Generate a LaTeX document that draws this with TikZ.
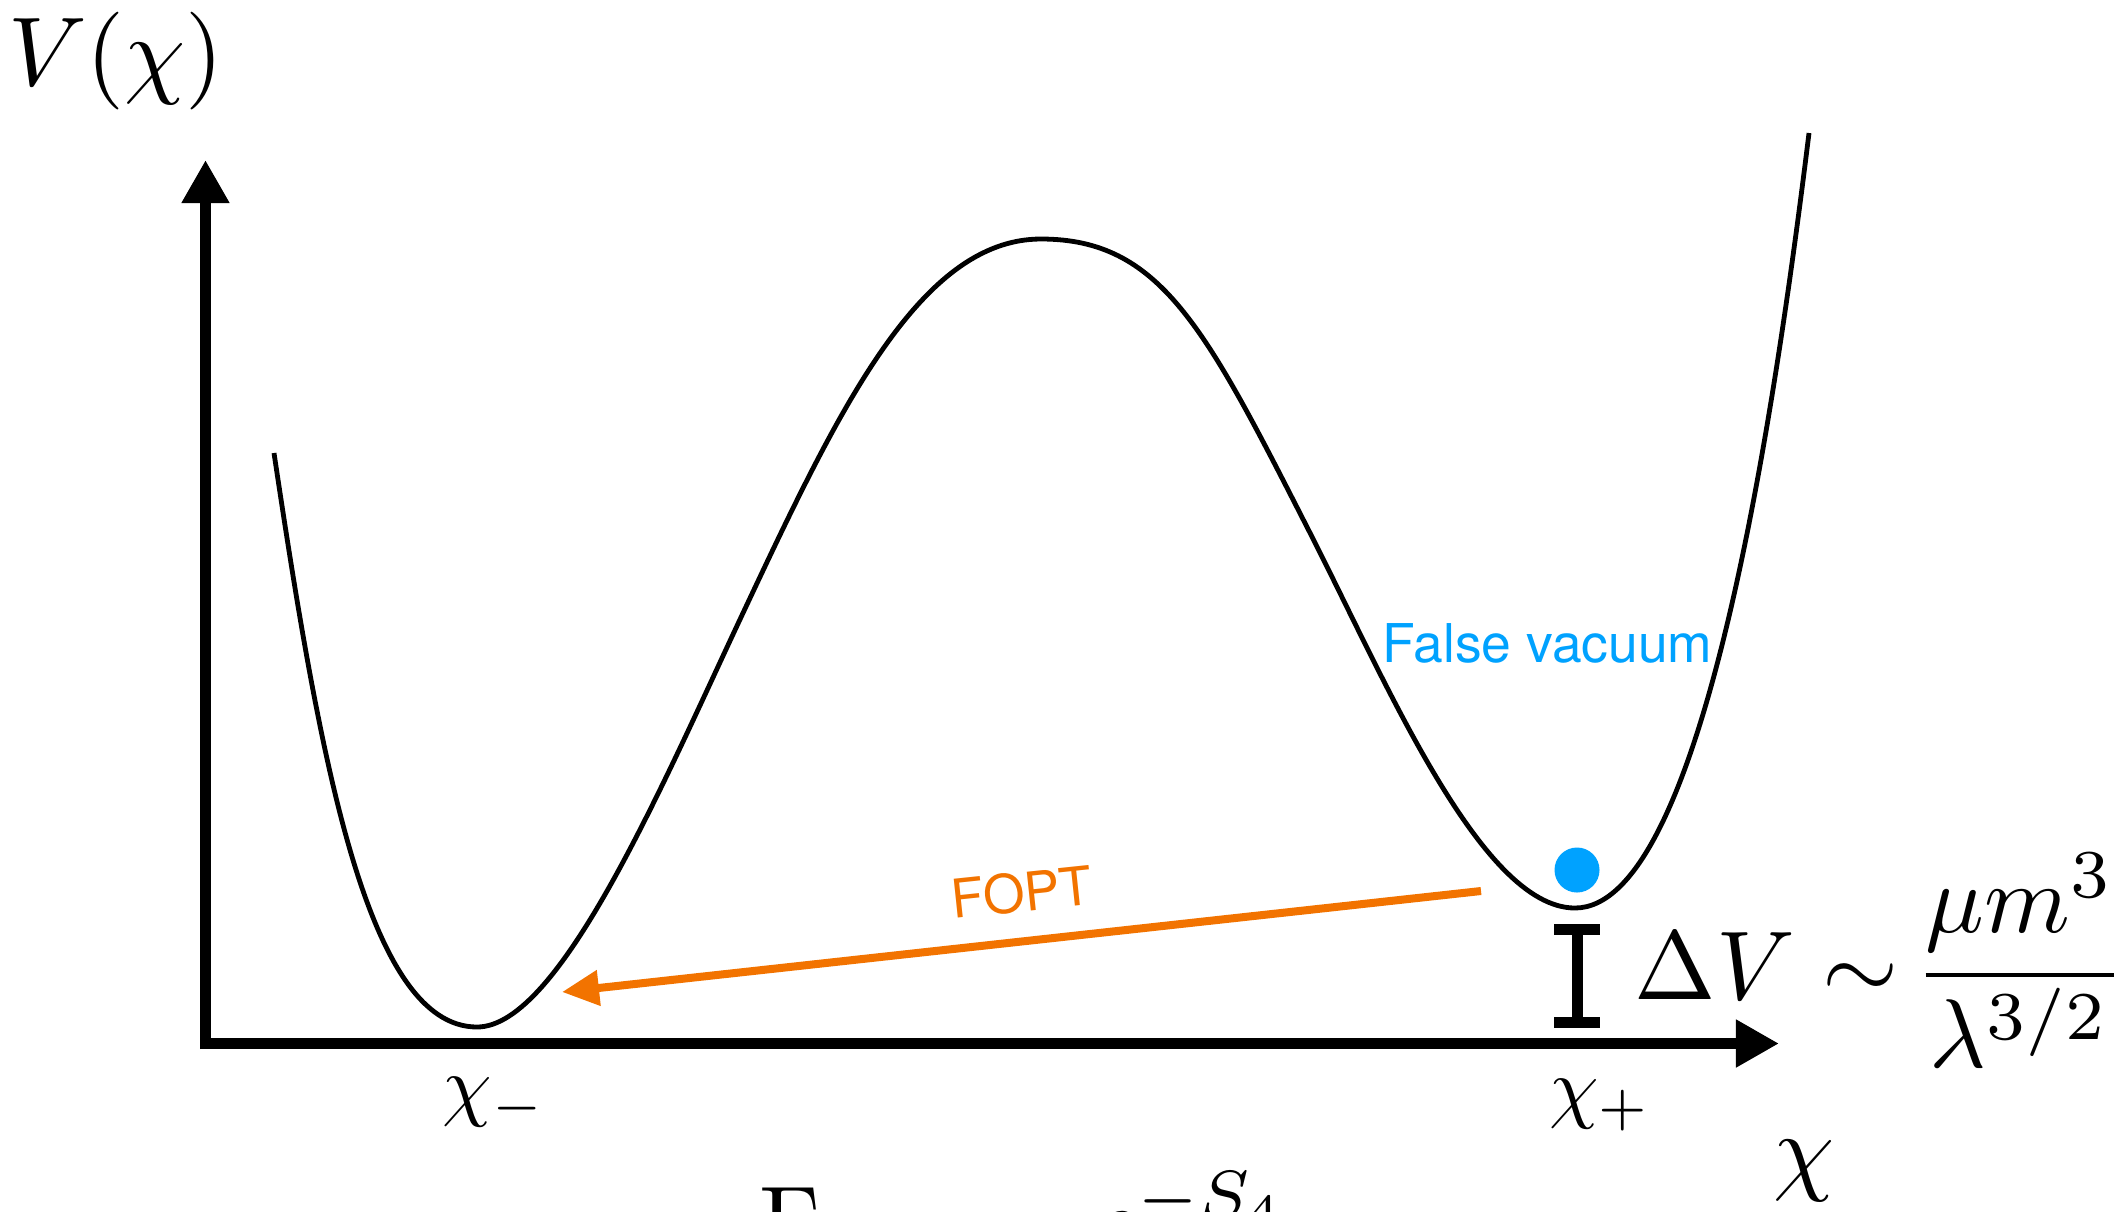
\documentclass[tikz,border=0pt]{standalone}
\usepackage[no-math]{fontspec}
\newfontfamily\heros{TeX Gyre Heros}
\usetikzlibrary{arrows.meta}

\definecolor{vacblue}{RGB}{0,162,255}
\definecolor{foptorange}{RGB}{242,115,0}

\newcommand*{\textlab}{\heros\fontsize{15.2}{18}\selectfont}

\begin{document}
\begin{tikzpicture}
[
	axis/.style={line width=0.11cm,-{Triangle[length=0.43cm,width=0.45cm]}},
	pot/.style={line width=0.048cm},
	tunnel/.style={foptorange,line width=0.08cm,-{Triangle[length=0.37cm,width=0.34cm]}},
	ibar/.style={line width=0.11cm},
	bigmath/.style={scale=2.78},
	smallmath/.style={scale=2.25},
	x=0.01cm,
	y=-0.01cm
]
	\useasboundingbox (0,0) rectangle (2115,1211);

	% axes
	\coordinate (yfoot) at (205.5,1049);
	\coordinate (ytip) at (205.5,160);
	\coordinate (xfoot) at (211,1043.5);
	\coordinate (xtip) at (1779,1043.5);
	\draw[axis] (yfoot) -- (ytip);
	\draw[axis] (xfoot) -- (xtip);
	\node[bigmath, anchor=base] (vlabel) at (116,85) {$V(\chi)$};
	\node[bigmath, anchor=base] (xlabel) at (1804,1182) {$\chi$};
	\node[smallmath, anchor=base] (xminus) at (494,1111) {$\chi_-$};
	\node[smallmath, anchor=base] (xplus) at (1600,1113) {$\chi_+$};

	% double well
	\draw[pot] (274,453) .. controls (319,753) and (366,1027) .. (477,1027)
		.. controls (560,1027) and (663,783) .. (743,613)
		.. controls (837,413) and (919,239) .. (1041,239)
		.. controls (1160,239) and (1205,327) .. (1307,527)
		.. controls (1384,677) and (1480,908) .. (1575,908)
		.. controls (1700,908) and (1772,433) .. (1809,133);

	\node[circle, fill=vacblue, inner sep=0pt, minimum size=0.45cm] (ball) at (1577,870) {};
	\node[font=\textlab, text=vacblue, anchor=base west, inner sep=0pt] (falselabel) at (1382,662) {False vacuum};

	% tunnelling
	\coordinate (foptstart) at (1481,891);
	\coordinate (fopttip) at (562,992);
	\draw[tunnel] (foptstart) -- (fopttip);
	\node[font=\textlab, text=foptorange, rotate=6] (foptlabel) at (1022,892) {FOPT};

	% energy gap
	\coordinate (dvtop) at (1577,929.5);
	\coordinate (dvbot) at (1577,1022.5);
	\draw[ibar] (dvtop) -- (dvbot);
	\draw[ibar] ([xshift=-0.23cm]dvtop) -- ([xshift=0.23cm]dvtop);
	\draw[ibar] ([xshift=-0.23cm]dvbot) -- ([xshift=0.23cm]dvbot);
	\node[bigmath, anchor=base west, inner sep=0pt] (dvlabel) at (1633,999)
		{$\nulldelimiterspace=0pt \Delta V \sim \displaystyle\frac{\mu m^3}{\lambda^{3/2}}$};

	\node[bigmath, anchor=base west, inner sep=0pt] (rate) at (758,1254)
		{$\Gamma \sim\hspace{1.44em} e^{-S_4}$};

\end{tikzpicture}
\end{document}
